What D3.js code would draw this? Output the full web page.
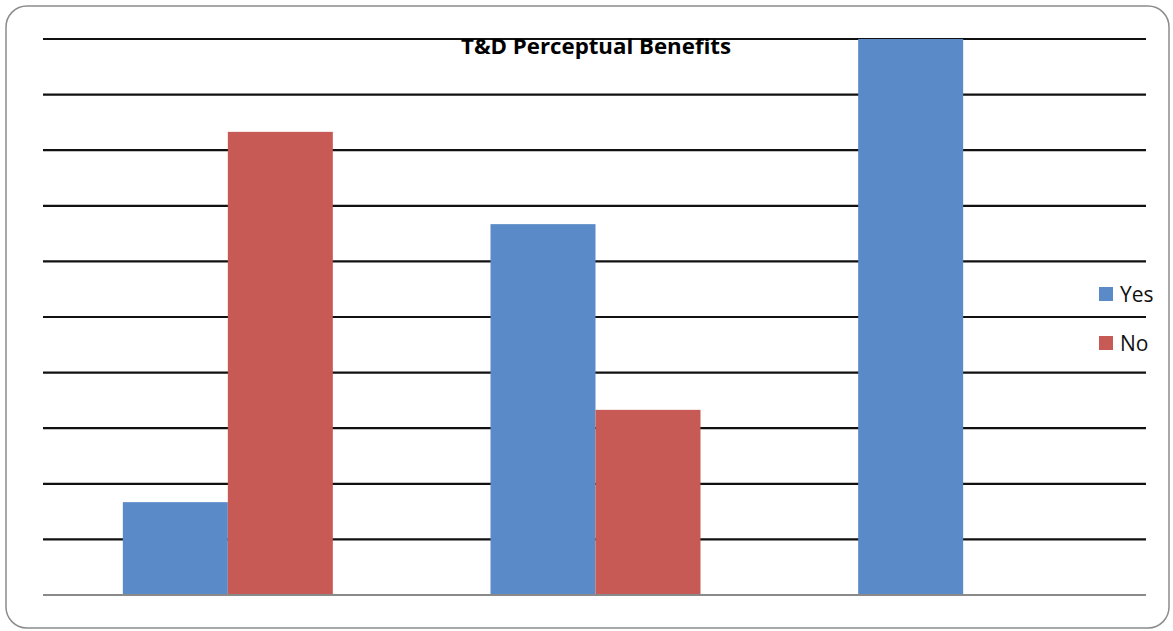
<!DOCTYPE html>
<html lang="en">
<head>
  <meta charset="UTF-8" />
  <title>T&amp;D Perceptual Benefits</title>
  <script src="https://d3js.org/d3.v7.min.js"></script>
  <style>
    body {
      margin: 0;
      padding: 0;
      background: #fff;
    }
    #chart svg {
      display: block;
    }
  </style>
</head>
<body>
  <div id="chart"></div>

  <script>
    // data (percent)
    const categories = ["A", "B", "C"];
    const seriesNames = ["Yes", "No"];
    const yesValues = [16.7, 66.7, 100];
    const noValues = [83.3, 33.3, 0];
    const yTicks = [10, 20, 30, 40, 50, 60, 70, 80, 90, 100];

    const width = 1173;
    const height = 631;
    const plot = { left: 43, right: 1146, top: 39, bottom: 595 };
    const colors = { Yes: "#5a8ac7", No: "#c85a55" };

    const svg = d3.select("#chart")
      .append("svg")
      .attr("width", width)
      .attr("height", height);

    // rounded frame
    svg.append("rect")
      .attr("x", 6)
      .attr("y", 6)
      .attr("width", 1163)
      .attr("height", 622)
      .attr("rx", 21)
      .attr("fill", "#fff")
      .attr("stroke", "#8c8c8c")
      .attr("stroke-width", 1.5);

    const x0 = d3.scaleBand()
      .domain(categories)
      .range([plot.left, plot.right]);

    const groupWidth = 210;
    const x1 = d3.scaleBand()
      .domain(seriesNames)
      .range([0, groupWidth]);

    const y = d3.scaleLinear()
      .domain([0, 100])
      .range([plot.bottom, plot.top]);

    // gridlines
    svg.append("g")
      .selectAll("line")
      .data(yTicks)
      .enter().append("line")
      .attr("x1", plot.left)
      .attr("x2", plot.right)
      .attr("y1", d => y(d))
      .attr("y2", d => y(d))
      .attr("stroke", "#111")
      .attr("stroke-width", 2.2);

    // bars
    const rows = categories.map((c, i) => ({ cat: c, Yes: yesValues[i], No: noValues[i] }));
    const offset = (x0.bandwidth() - groupWidth) / 2 + 1;

    svg.append("g")
      .selectAll("g")
      .data(rows)
      .enter().append("g")
      .attr("transform", d => `translate(${x0(d.cat) + offset},0)`)
      .selectAll("rect")
      .data(d => seriesNames.map(s => ({ key: s, value: d[s] })))
      .enter().append("rect")
      .attr("x", d => x1(d.key))
      .attr("y", d => y(d.value))
      .attr("width", x1.bandwidth())
      .attr("height", d => y(0) - y(d.value))
      .attr("fill", d => colors[d.key]);

    // baseline
    svg.append("line")
      .attr("x1", plot.left)
      .attr("x2", plot.right)
      .attr("y1", y(0))
      .attr("y2", y(0))
      .attr("stroke", "#8a8a8a")
      .attr("stroke-width", 2);

    // title (sits over the top gridline, like the original)
    svg.append("text")
      .attr("x", 596)
      .attr("y", 54)
      .attr("text-anchor", "middle")
      .attr("font-family", "'Open Sans', sans-serif")
      .attr("font-weight", "bold")
      .attr("font-size", 22)
      .attr("textLength", 270)
      .attr("lengthAdjust", "spacingAndGlyphs")
      .text("T&D Perceptual Benefits");

    // legend
    const legend = svg.append("g")
      .selectAll("g")
      .data(seriesNames)
      .enter().append("g")
      .attr("transform", (d, i) => `translate(1099,${287 + i * 49})`);

    legend.append("rect")
      .attr("width", 14)
      .attr("height", 14)
      .attr("fill", d => colors[d]);

    legend.append("text")
      .attr("x", 21)
      .attr("y", 15)
      .attr("font-family", "'Open Sans', sans-serif")
      .attr("font-size", 21)
      .attr("fill", "#111")
      .text(d => d);
  </script>
</body>
</html>
